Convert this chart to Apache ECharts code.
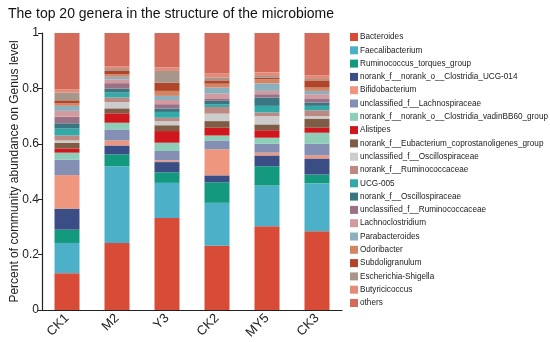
<!DOCTYPE html>
<html>
<head>
<meta charset="utf-8">
<script src="https://cdn.jsdelivr.net/npm/echarts@6/dist/echarts.min.js"></script>
<style>html,body{margin:0;padding:0;background:#fff}#c{width:550px;height:342px}</style>
</head>
<body>
<div id="c"></div>
<script>
const categories = ['CK1', 'M2', 'Y3', 'CK2', 'MY5', 'CK3'];
const genera = ['Bacteroides','Faecalibacterium','Ruminococcus_torques_group','norank_f__norank_o__Clostridia_UCG-014','Bifidobacterium','unclassified_f__Lachnospiraceae','norank_f__norank_o__Clostridia_vadinBB60_group','Alistipes','norank_f__Eubacterium_coprostanoligenes_group','unclassified_f__Oscillospiraceae','norank_f__Ruminococcaceae','UCG-005','norank_f__Oscillospiraceae','unclassified_f__Ruminococcaceae','Lachnoclostridium','Parabacteroides','Odoribacter','Subdoligranulum','Escherichia-Shigella','Butyricicoccus','others'];
const colors = ['#D84B36','#4BB0C8','#139A7E','#3A4E85','#EE967E','#8390B3','#8ECDB8','#D0171D','#7E5C45','#CCCCCC','#BC8A82','#33A9A8','#387782','#9A7186','#D29BA0','#8CB0BE','#D38563','#B0452A','#A6978A','#E48A79','#D46B5A'];
// values per genus, one per category (CK1, M2, Y3, CK2, MY5, CK3)
const Bacteroides = [0.133,0.242,0.332,0.232,0.302,0.284];
const Faecalibacterium = [0.109,0.277,0.127,0.155,0.147,0.173];
const Ruminococcus_torques_group = [0.048,0.043,0.038,0.074,0.070,0.032];
const Clostridia_UCG_014 = [0.076,0.032,0.037,0.025,0.039,0.058];
const Bifidobacterium = [0.121,0.018,0.006,0.094,0.010,0.011];
const unclassified_Lachnospiraceae = [0.056,0.040,0.034,0.032,0.032,0.042];
const Clostridia_vadinBB60_group = [0.025,0.024,0.030,0.018,0.022,0.040];
const Alistipes = [0.015,0.034,0.042,0.028,0.027,0.018];
const Eubacterium_coprostanoligenes = [0.021,0.018,0.021,0.024,0.021,0.033];
const unclassified_Oscillospiraceae = [0.008,0.023,0.015,0.027,0.030,0.009];
const norank_Ruminococcaceae = [0.018,0.016,0.012,0.024,0.013,0.021];
const UCG_005 = [0.025,0.018,0.021,0.010,0.024,0.016];
const norank_Oscillospiraceae = [0.019,0.014,0.012,0.012,0.030,0.012];
const unclassified_Ruminococcaceae = [0.024,0.020,0.016,0.009,0.012,0.015];
const Lachnoclostridium = [0.021,0.014,0.015,0.017,0.012,0.015];
const Parabacteroides = [0.018,0.009,0.015,0.022,0.027,0.012];
const Odoribacter = [0.009,0.009,0.018,0.014,0.015,0.012];
const Subdoligranulum = [0.011,0.012,0.030,0.012,0.006,0.026];
const Escherichia_Shigella = [0.028,0.007,0.042,0.010,0.006,0.005];
const Butyricicoccus = [0.012,0.009,0.013,0.015,0.013,0.014];
const others = [0.203,0.121,0.124,0.146,0.142,0.152];
const yTicks = [0, 0.2, 0.4, 0.6, 0.8, 1];

const values = [Bacteroides,Faecalibacterium,Ruminococcus_torques_group,Clostridia_UCG_014,Bifidobacterium,unclassified_Lachnospiraceae,Clostridia_vadinBB60_group,Alistipes,Eubacterium_coprostanoligenes,unclassified_Oscillospiraceae,norank_Ruminococcaceae,UCG_005,norank_Oscillospiraceae,unclassified_Ruminococcaceae,Lachnoclostridium,Parabacteroides,Odoribacter,Subdoligranulum,Escherichia_Shigella,Butyricicoccus,others];

const chart = echarts.init(document.getElementById('c'), null, {renderer: 'canvas'});
const font = 'Liberation Sans, Arial, sans-serif';
chart.setOption({
  animation: false,
  color: colors,
  textStyle: {fontFamily: font},
  title: {
    text: 'The top 20 genera in the structure of the microbiome',
    left: 3, top: 2,
    textStyle: {fontFamily: font, fontSize: 14, fontWeight: 'normal', color: '#111'}
  },
  legend: {
    orient: 'vertical',
    left: 350, top: 32, padding: 0,
    itemWidth: 8, itemHeight: 8, itemGap: 3.3,
    icon: 'rect',
    data: genera,
    textStyle: {fontFamily: font, fontSize: 8.2, color: '#222', lineHeight: 10, padding: [0,0,0,-3], overflow: 'none'}
  },
  grid: {left: 42, right: 208, top: 33, bottom: 32, containLabel: false, outerBoundsMode: 'none'},
  xAxis: {
    type: 'category',
    data: categories,
    axisLine: {lineStyle: {color: '#222', width: 1.2}},
    axisTick: {show: false},
    axisLabel: {rotate: 45, fontFamily: font, fontSize: 13, color: '#222', margin: 6}
  },
  yAxis: {
    type: 'value',
    min: yTicks[0], max: yTicks[yTicks.length - 1], interval: 0.2,
    name: 'Percent of community abundance on Genus level',
    nameLocation: 'middle', nameGap: 21, nameMoveOverlap: false,
    nameTextStyle: {fontFamily: font, fontSize: 12, color: '#222'},
    axisLine: {show: true, lineStyle: {color: '#222', width: 1.2}},
    axisTick: {show: true, length: 4, lineStyle: {color: '#222'}},
    splitLine: {show: false},
    axisLabel: {fontFamily: font, fontSize: 12, color: '#222', margin: 3}
  },
  series: genera.map((g, i) => ({
    name: g,
    type: 'bar',
    stack: 'total',
    barWidth: 25,
    data: values[i],
    itemStyle: {color: colors[i]}
  }))
});
</script>
</body>
</html>
